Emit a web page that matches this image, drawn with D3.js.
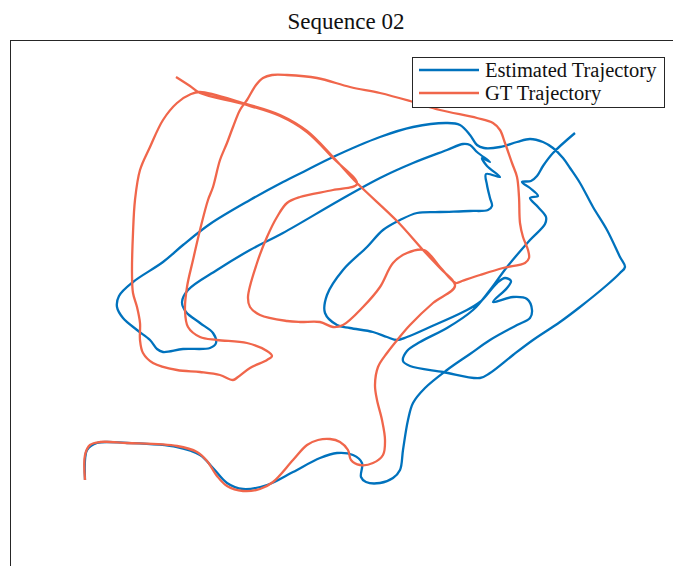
<!DOCTYPE html>
<html>
<head>
<meta charset="utf-8">
<script src="https://cdn.jsdelivr.net/npm/d3@7"></script>
<style>
  body { margin: 0; background: #fff; }
  svg { display: block; }
</style>
</head>
<body>
<div id="chart"></div>
<script>
// trajectory positions in metres (origin = start pose)
var estX = [0, 0, 0.2, 1.2, 4.2, 9.2, 11.5, 12.8, 14.2, 15.8, 18.2, 20.8, 23.5, 25.2, 26.8, 27.7, 27.6, 28.1, 29.5, 30.8,
  31.5, 31.8, 32.3, 32.8, 34.0, 36.2, 38.5, 40.5, 43.2, 44.5, 44.7, 44.2, 42.8, 40.8, 42.2, 42.6, 42.0, 41.2, 39.5, 37.8,
  34.5, 32.2, 31.2, 30.2, 28.8, 26.5, 25.2, 24.0, 24.2, 25.8, 28.2, 29.8, 31.5, 33.2, 35.5, 38.5, 40.3, 40.7, 40.5, 40.2,
  40.1, 41.5, 40.2, 39.7, 40.5, 39.2, 38.5, 37.8, 36.2, 32.8, 29.5, 25.5, 19.8, 16.5, 13.2, 10.3, 9.7, 10.1, 11.5, 12.8,
  13.1, 12.5, 9.8, 7.8, 7.2, 6.5, 5.2, 3.8, 3.2, 3.4, 4.8, 7.8, 9.8, 12.5, 16.5, 19.8, 22.2, 24.8, 29.5, 32.8,
  36.2, 37.5, 38.5, 39.2, 39.9, 41.5, 43.2, 44.5, 45.8, 46.8, 47.8, 48.5, 49.5, 50.8, 52.2, 53.5, 54.0, 53.5, 52.2, 49.5,
  47.5, 44.8, 42.8, 40.5, 39.5, 35.8, 32.5, 31.8, 32.2, 33.5, 36.2, 38.8, 40.5, 42.2, 44.5, 46.0, 46.1, 45.3, 44.5, 45.3,
  44.5, 43.7, 44.6, 45.2, 45.8, 46.8, 49.0];
var estY = [0, 2.0, 3.0, 3.7, 3.7, 3.3, 2.5, 1.2, -0.3, -0.9, -0.5, 0.8, 2.2, 2.7, 2.5, 1.7, 0.3, -0.2, -0.3, 0.2,
  1.0, 3.0, 6.0, 7.7, 9.2, 11.0, 12.6, 14.0, 15.5, 16.2, 17.0, 18.1, 18.3, 17.8, 19.2, 19.9, 20.2, 19.7, 17.8, 16.8,
  15.3, 14.3, 14.0, 14.3, 14.8, 15.2, 15.5, 16.7, 18.5, 21.0, 23.3, 25.0, 26.0, 26.7, 26.8, 26.9, 27.0, 27.4, 28.2, 29.5,
  30.6, 30.3, 31.4, 32.2, 31.8, 32.8, 33.5, 33.6, 33.0, 31.7, 30.2, 28.0, 24.7, 23.0, 21.0, 19.0, 17.8, 16.8, 15.7, 14.7,
  13.7, 13.2, 13.1, 12.8, 13.1, 14.0, 15.0, 16.2, 17.3, 18.4, 19.8, 21.8, 23.5, 25.6, 28.0, 29.8, 31.0, 32.3, 34.3, 35.3,
  35.7, 35.5, 34.5, 33.5, 33.2, 33.3, 33.8, 34.1, 33.8, 33.2, 32.2, 31.2, 29.7, 27.3, 25.0, 22.3, 21.3, 20.7, 19.5, 17.3,
  15.8, 14.0, 12.5, 10.7, 10.2, 10.8, 11.4, 11.9, 12.9, 13.8, 15.2, 17.0, 19.0, 21.3, 24.0, 25.6, 26.3, 27.3, 28.2, 28.4,
  29.2, 29.8, 29.9, 30.4, 31.4, 32.7, 34.7];

var gtX = [0, 0, 0.5, 1.5, 4.2, 9.2, 11.2, 12.2, 13.2, 14.2, 15.8, 17.5, 18.8, 20.8, 22.2, 23.3, 24.5, 25.5, 26.3, 26.6,
  27.5, 28.8, 29.8, 30.0, 29.7, 29.2, 29.0, 29.3, 30.2, 31.3, 32.5, 34.8, 37.0, 35.5, 33.8, 31.2, 27.2, 24.8, 22.2, 19.5,
  15.8, 11.5, 10.6, 9.2, 7.8, 6.5, 5.5, 5.0, 4.8, 4.7, 4.8, 5.2, 5.5, 5.5, 5.8, 6.8, 9.2, 11.5, 13.5, 14.8,
  15.3, 16.5, 18.2, 18.7, 18.2, 16.2, 13.2, 11.5, 10.3, 10.0, 10.2, 10.8, 11.5, 12.3, 12.8, 13.5, 14.2, 14.8, 15.5, 16.2,
  17.1, 17.8, 18.7, 20.2, 23.2, 26.5, 29.5, 32.5, 35.5, 39.2, 40.8, 41.5, 42.0, 42.7, 43.2, 43.4, 43.5, 43.8, 44.3, 44.4,
  44.0, 41.8, 39.5, 37.7, 37.1, 35.5, 33.9, 32.2, 30.8, 29.5, 27.8, 25.8, 24.8, 23.5, 21.5, 20.2, 17.5, 16.5, 16.3, 17.2,
  18.2, 19.2, 20.2, 21.5, 24.8, 27.2, 24.8, 22.2, 19.5, 15.8, 11.5, 10.5, 9.1];
var gtY = [0, 2.5, 3.5, 3.8, 3.7, 3.4, 2.8, 1.9, 0.4, -0.6, -1.1, -0.9, -0.2, 2.0, 3.5, 4.0, 4.1, 3.8, 3.0, 2.0,
  1.5, 1.7, 2.5, 4.0, 6.0, 8.0, 9.5, 11.3, 12.7, 14.1, 15.5, 17.7, 19.4, 21.2, 23.0, 25.9, 29.7, 32.3, 34.9, 36.5,
  37.7, 38.8, 38.6, 37.7, 36.0, 33.3, 31.0, 28.0, 24.7, 20.7, 18.7, 17.3, 15.7, 14.0, 12.7, 11.7, 11.0, 10.8, 10.5, 10.0,
  10.3, 11.2, 12.0, 12.4, 12.9, 13.7, 14.0, 14.3, 15.3, 17.0, 19.3, 22.0, 25.0, 28.0, 29.3, 32.0, 33.7, 35.3, 37.0, 38.0,
  39.5, 40.2, 40.5, 40.5, 40.2, 39.3, 38.7, 37.9, 37.0, 36.2, 35.7, 35.0, 33.7, 31.7, 30.3, 28.3, 25.7, 24.3, 23.0, 22.2,
  21.7, 21.2, 20.5, 19.9, 19.7, 21.3, 23.0, 22.7, 21.7, 19.3, 17.3, 15.5, 15.3, 15.8, 15.8, 15.9, 16.5, 17.3, 18.3, 21.7,
  24.3, 26.3, 27.7, 28.3, 29.0, 29.6, 32.2, 34.8, 36.4, 37.6, 38.7, 39.4, 40.3];

var seriesNames = ["Estimated Trajectory", "GT Trajectory"];
var seriesColors = ["#0072BD", "#F0664B"];
var titleText = "Sequence 02";

var W = 673, H = 566;
var margin = {left: 10, top: 40};

var svg = d3.select("#chart").append("svg")
  .attr("width", W)
  .attr("height", H);

var x = d3.scaleLinear().domain([-7.5, 58.8]).range([margin.left, W]);
var y = d3.scaleLinear().domain([-8.6, 44]).range([H, margin.top]);

// axes box (only the left and top edges fall inside the window)
svg.append("line")
  .attr("x1", x.range()[0]).attr("x2", x.range()[1])
  .attr("y1", y.range()[1] + 0.5).attr("y2", y.range()[1] + 0.5)
  .style("stroke", "#262626").style("stroke-width", "1px");
svg.append("line")
  .attr("x1", x.range()[0] + 0.5).attr("x2", x.range()[0] + 0.5)
  .attr("y1", y.range()[1]).attr("y2", y.range()[0])
  .style("stroke", "#262626").style("stroke-width", "1px");

var line = d3.line()
  .x(function(d){ return x(d[0]); })
  .y(function(d){ return y(d[1]); })
  .curve(d3.curveCatmullRom.alpha(0.5));

var series = [d3.zip(estX, estY), d3.zip(gtX, gtY)];

svg.selectAll(".traj")
  .data(series)
  .enter()
  .append("path")
  .attr("class", "traj")
  .attr("d", line)
  .style("fill", "none")
  .style("stroke", function(d, i){ return seriesColors[i]; })
  .style("stroke-width", "2.3px")
  .style("stroke-linejoin", "round");

// title
svg.append("text")
  .attr("x", 346)
  .attr("y", 29)
  .attr("text-anchor", "middle")
  .style("font-family", "'Liberation Serif', serif")
  .style("font-size", "23px")
  .style("fill", "#111")
  .text(titleText);

// legend
var lg = svg.append("g").attr("transform", "translate(412,57)");
lg.append("rect")
  .attr("x", 0.5).attr("y", 0.5)
  .attr("width", 252).attr("height", 50)
  .style("fill", "#fff")
  .style("stroke", "#262626")
  .style("stroke-width", "1px");

var items = lg.selectAll(".item")
  .data(seriesNames)
  .enter()
  .append("g")
  .attr("class", "item")
  .attr("transform", function(d, i){ return "translate(0," + (13 + i * 23) + ")"; });

items.append("line")
  .attr("x1", 7).attr("x2", 67)
  .style("stroke", function(d, i){ return seriesColors[i]; })
  .style("stroke-width", "2.3px");

items.append("text")
  .attr("x", 73)
  .attr("dy", "0.35em")
  .style("font-family", "'Liberation Serif', serif")
  .style("font-size", "20.5px")
  .style("fill", "#111")
  .text(function(d){ return d; });
</script>
</body>
</html>
